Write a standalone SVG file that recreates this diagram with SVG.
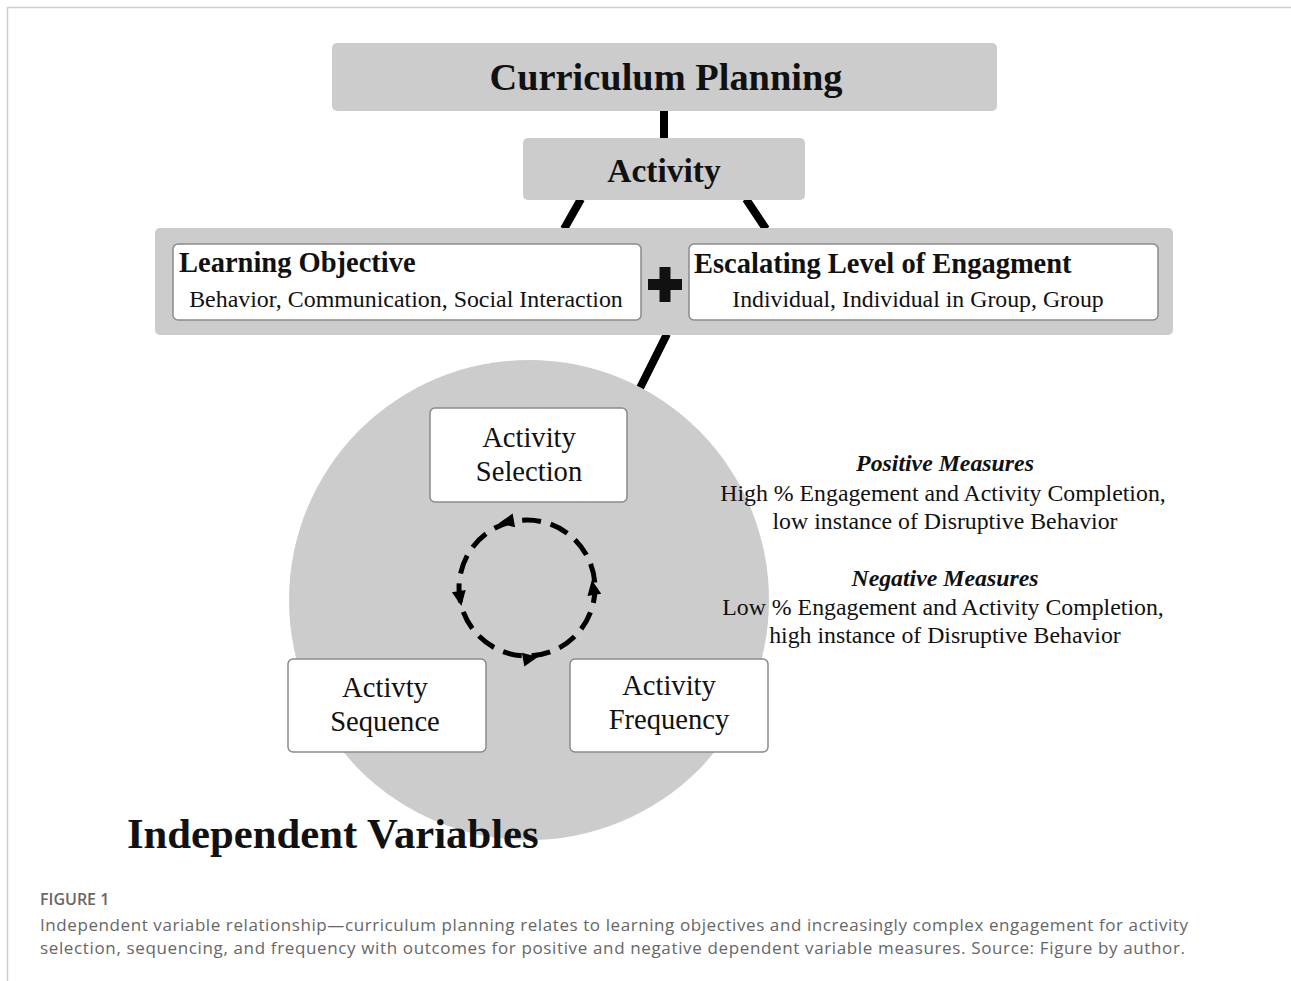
<svg xmlns="http://www.w3.org/2000/svg" width="1291" height="981" viewBox="0 0 1291 981">
  <style>
    .panel { fill: #cccccc; }
    .card { fill: #ffffff; stroke: #8a8a8a; stroke-width: 1.5; }
    .link { stroke: #000000; stroke-width: 8; fill: none; }
    .serif { font-family: "Liberation Serif", "Times New Roman", serif; fill: #111111; }
    .b { font-weight: bold; }
    .bi { font-weight: bold; font-style: italic; }
    .cap { font-family: "Open Sans", "Liberation Sans", sans-serif; fill: #666666; }
    .head { fill: #000000; }
  </style>

  <rect width="1291" height="981" fill="#ffffff"/>
  <!-- page frame -->
  <path d="M7.5,981 V7.5 H1291" fill="none" stroke="#cfcfcf" stroke-width="1.5"/>

  <!-- connectors -->
  <g id="connectors">
    <line class="link" x1="664" y1="110" x2="664" y2="139"/>
    <line class="link" x1="581" y1="199" x2="564" y2="229"/>
    <line class="link" x1="746" y1="199" x2="766" y2="229"/>
    <line class="link" x1="667" y1="334" x2="637" y2="394"/>
  </g>

  <g id="curriculum-planning">
    <rect class="panel" x="332" y="43" width="665" height="68" rx="5"/>
    <text class="serif b" x="666" y="90" font-size="38.4" text-anchor="middle">Curriculum Planning</text>
  </g>

  <g id="activity">
    <rect class="panel" x="523" y="138" width="282" height="62" rx="5"/>
    <text class="serif b" x="664" y="182" font-size="33.5" text-anchor="middle">Activity</text>
  </g>

  <g id="objective-engagement">
    <rect class="panel" x="155" y="228" width="1018" height="107" rx="5"/>
    <g id="learning-objective">
      <rect class="card" x="173" y="244" width="468" height="76" rx="5"/>
      <text class="serif b" x="179" y="272" font-size="28.5">Learning Objective</text>
      <text class="serif" x="406" y="307" font-size="23.9" text-anchor="middle">Behavior, Communication, Social Interaction</text>
    </g>
    <g id="plus">
      <rect x="648" y="279" width="34" height="11" fill="#111"/>
      <rect x="659.5" y="267" width="11" height="35" fill="#111"/>
    </g>
    <g id="engagement">
      <rect class="card" x="689" y="244" width="469" height="76" rx="5"/>
      <text class="serif b" x="694" y="273" font-size="28.5">Escalating Level of Engagment</text>
      <text class="serif" x="918" y="307" font-size="23.8" text-anchor="middle">Individual, Individual in Group, Group</text>
    </g>
  </g>

  <g id="independent-variables">
    <circle class="panel" cx="529" cy="600" r="240"/>
    <g id="cycle">
      <circle cx="527" cy="588" r="68" fill="none" stroke="#000" stroke-width="5" stroke-dasharray="19 10" stroke-dashoffset="4"/>
      <!-- counter-clockwise arrowheads -->
      <path class="head" d="M499,522 l15,-7 l0,14 Z" transform="rotate(-10 505 522)"/>
      <path class="head" d="M460,606 l-7,-15 l14,0 Z" transform="rotate(-10 460 598)"/>
      <path class="head" d="M538,658 l-15,-7 l0,14 Z" transform="rotate(-10 532 658)"/>
      <path class="head" d="M593,580 l-7,15 l14,0 Z" transform="rotate(-10 593 587)"/>
    </g>
    <g id="activity-selection">
      <rect class="card" x="430" y="408" width="197" height="94" rx="5"/>
      <text class="serif" x="529" y="447" font-size="28.6" text-anchor="middle">Activity</text>
      <text class="serif" x="529" y="481" font-size="28.6" text-anchor="middle">Selection</text>
    </g>
    <g id="activity-sequence">
      <rect class="card" x="288" y="659" width="198" height="93" rx="5"/>
      <text class="serif" x="385" y="697" font-size="28.6" text-anchor="middle">Activty</text>
      <text class="serif" x="385" y="731" font-size="28.6" text-anchor="middle">Sequence</text>
    </g>
    <g id="activity-frequency">
      <rect class="card" x="570" y="659" width="198" height="93" rx="5"/>
      <text class="serif" x="669" y="695" font-size="28.6" text-anchor="middle">Activity</text>
      <text class="serif" x="669" y="729" font-size="28.6" text-anchor="middle">Frequency</text>
    </g>
    <text class="serif b" x="127" y="848" font-size="42.7">Independent Variables</text>
  </g>

  <g id="measures">
    <text class="serif bi" x="945" y="471" font-size="23.8" text-anchor="middle">Positive Measures</text>
    <text class="serif" x="943" y="501" font-size="23.8" text-anchor="middle">High % Engagement and Activity Completion,</text>
    <text class="serif" x="945" y="529" font-size="23.8" text-anchor="middle">low instance of Disruptive Behavior</text>
    <text class="serif bi" x="945" y="586" font-size="23.8" text-anchor="middle">Negative Measures</text>
    <text class="serif" x="943" y="615" font-size="23.8" text-anchor="middle">Low % Engagement and Activity Completion,</text>
    <text class="serif" x="945" y="643" font-size="23.8" text-anchor="middle">high instance of Disruptive Behavior</text>
  </g>

  <g id="caption">
    <text class="cap" x="40" y="905" font-size="16" font-weight="600">FIGURE 1</text>
    <text class="cap" x="40" y="931" font-size="17" textLength="1148" lengthAdjust="spacing">Independent variable relationship—curriculum planning relates to learning objectives and increasingly complex engagement for activity</text>
    <text class="cap" x="40" y="954" font-size="17" textLength="1145" lengthAdjust="spacing">selection, sequencing, and frequency with outcomes for positive and negative dependent variable measures. Source: Figure by author.</text>
  </g>
</svg>
